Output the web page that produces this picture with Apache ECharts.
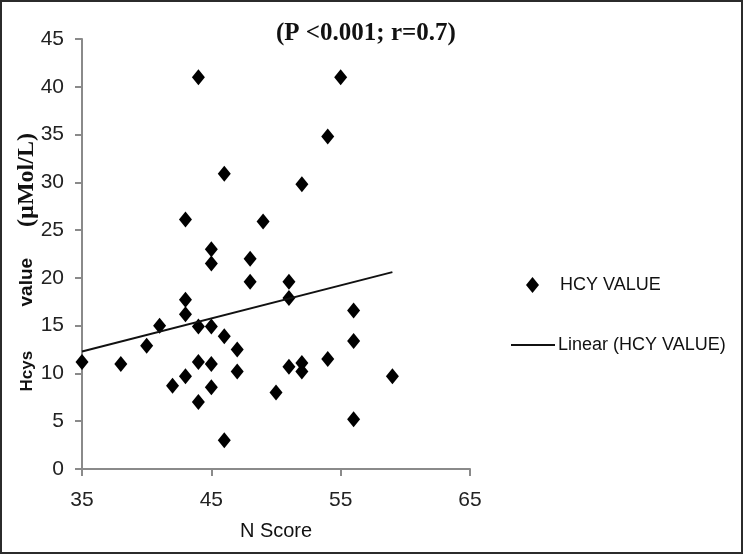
<!DOCTYPE html>
<html><head><meta charset="utf-8">
<script src="https://cdn.jsdelivr.net/npm/echarts@6/dist/echarts.min.js"></script>
<style>
html,body{margin:0;padding:0;background:#fff;}
#wrap{position:relative;width:743px;height:554px;}
#chart{position:absolute;left:0;top:0;width:743px;height:554px;}
#frame{position:absolute;left:0;top:0;width:743px;height:554px;box-sizing:border-box;border:2px solid #2b2b2b;pointer-events:none;}
</style></head>
<body>
<div id="wrap"><div id="chart"></div><div id="frame"></div></div>
<script>
const nScore = [35,38,40,41,42,43,43,43,43,44,44,44,44,45,45,45,45,45,46,46,46,47,47,48,48,49,50,51,51,51,52,52,52,54,54,55,56,56,56,59];
const hcyValue = [11.2,11.0,12.9,15.0,8.7,17.7,16.2,9.7,26.1,14.9,11.2,7.0,41.0,14.9,11.0,8.55,21.5,23.0,13.9,3.0,30.9,12.5,10.2,22.0,19.6,25.9,8.0,19.6,17.9,10.7,11.1,10.2,29.8,34.8,11.5,41.0,16.6,13.4,5.2,9.7];
const trendX = [35, 59];
const trendY = [12.3, 20.6];
const xTicks = {min:35, max:65, interval:10};
const yTicks = {min:0, max:45, interval:5};
const titleText = '(P <0.001; r=0.7)';
const seriesName = 'HCY VALUE';
const trendName = 'Linear (HCY VALUE)';

const chart = echarts.init(document.getElementById('chart'));
const sans = "'Liberation Sans',Arial,sans-serif";
const serif = "'Liberation Serif','Times New Roman',serif";
chart.setOption({
  animation:false,
  backgroundColor:'#fff',
  title:{text:titleText,left:271,top:16,textStyle:{fontFamily:serif,fontWeight:'bold',fontSize:25,color:'#111'}},
  grid:{left:82,top:39,width:388,height:430,containLabel:false,outerBoundsMode:'none'},
  legend:[
    {data:[{name:seriesName,icon:'diamond'}],left:521,top:271,itemWidth:13,itemHeight:16,
     textStyle:{fontFamily:sans,fontSize:18,color:'#111',padding:[0,0,0,16]}},
    {data:[{name:trendName,icon:'rect'}],left:506,top:331,itemWidth:44,itemHeight:2,
     textStyle:{fontFamily:sans,fontSize:18,color:'#111',padding:[0,0,0,-2]}}
  ],
  xAxis:{type:'value',min:xTicks.min,max:xTicks.max,interval:xTicks.interval,
    name:'N Score',nameLocation:'middle',nameGap:52,nameMoveOverlap:false,
    nameTextStyle:{fontFamily:sans,fontSize:20,color:'#111'},
    axisLine:{show:true,lineStyle:{color:'#8a8a8a',width:2}},
    axisTick:{show:true,length:7,lineStyle:{color:'#8a8a8a',width:2}},
    axisLabel:{fontFamily:sans,fontSize:21,color:'#222',margin:21},
    splitLine:{show:false}},
  yAxis:{type:'value',min:yTicks.min,max:yTicks.max,interval:yTicks.interval,
    name:'{a|Hcys}{b|value}{c|(µMol/L)}',nameLocation:'middle',nameGap:43,nameRotate:90,nameMoveOverlap:false,
    nameTextStyle:{rich:{
      a:{fontFamily:sans,fontWeight:'bold',fontSize:17,color:'#111',width:85,align:'left'},
      b:{fontFamily:sans,fontWeight:'bold',fontSize:19,color:'#111',width:63,align:'left'},
      c:{fontFamily:serif,fontWeight:'bold',fontSize:24,color:'#111',width:127,align:'center'}}},
    axisLine:{show:true,lineStyle:{color:'#8a8a8a',width:2}},
    axisTick:{show:true,length:7,lineStyle:{color:'#8a8a8a',width:2}},
    axisLabel:{fontFamily:sans,fontSize:21,color:'#222',margin:18},
    splitLine:{show:false}},
  series:[
    {name:seriesName,type:'scatter',symbol:'diamond',symbolSize:[13,16],
     itemStyle:{color:'#000',opacity:1},data:nScore.map((x,i)=>[x,hcyValue[i]])},
    {name:trendName,type:'line',symbol:'none',lineStyle:{color:'#111',width:2},
     itemStyle:{color:'#111'},data:trendX.map((x,i)=>[x,trendY[i]])}
  ]
});
</script>
</body></html>
